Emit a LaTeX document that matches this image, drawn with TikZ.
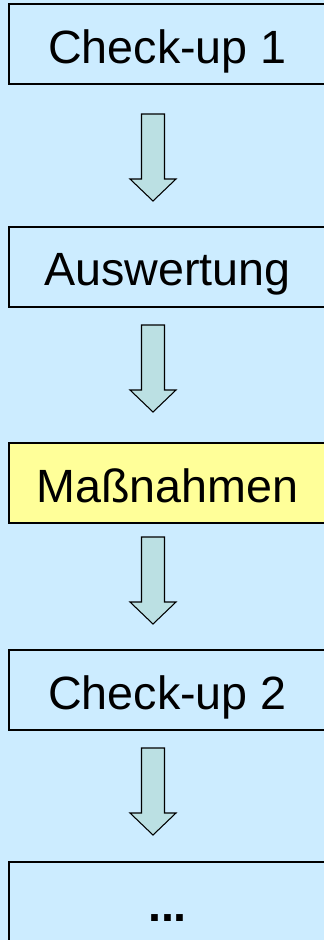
\documentclass[tikz,border=0pt]{standalone}
\usepackage{fontspec}
\setmainfont{Liberation Sans}
\usetikzlibrary{calc}
\definecolor{hgblau}{RGB}{204,236,255}
\definecolor{pfeilgruen}{RGB}{187,224,227}
\definecolor{gelb}{RGB}{255,255,153}

\begin{document}
\begin{tikzpicture}[x=0.75pt, y=-0.75pt, line width=0.8pt,
	box/.style={draw, line width=1.5pt, inner sep=0pt, minimum width=237.75pt, minimum height=60pt,
		text height=30pt, text depth=1.5pt, font=\fontsize{35pt}{40pt}\selectfont},
	pfeil/.style={draw, fill=pfeilgruen, line join=miter}]
\fill[hgblau] (0,0) rectangle (324,940);
\useasboundingbox (0,0) rectangle (324,940);

\node[box] (c1) at (167.5,44) {Check-up 1};
\node[box] (aw) at (167.5,266.5) {Auswertung};
\node[box, fill=gelb] (mn) at (167.5,483) {Maßnahmen};
\node[box] (c2) at (167.5,690) {Check-up 2};
\node[box] (etc) at (167.5,902) {\textbf{...}};

\foreach \i/\t in {1/114,2/325,3/537,4/748}{
	\coordinate (p\i) at (153,\t);
	\draw[pfeil] ($(p\i)+(-11.5,0)$)--($(p\i)+(11.5,0)$)--($(p\i)+(11.5,65)$)--($(p\i)+(23,65)$)
		--($(p\i)+(0,87)$)--($(p\i)+(-23,65)$)--($(p\i)+(-11.5,65)$)--cycle;
}
\end{tikzpicture}
\end{document}
